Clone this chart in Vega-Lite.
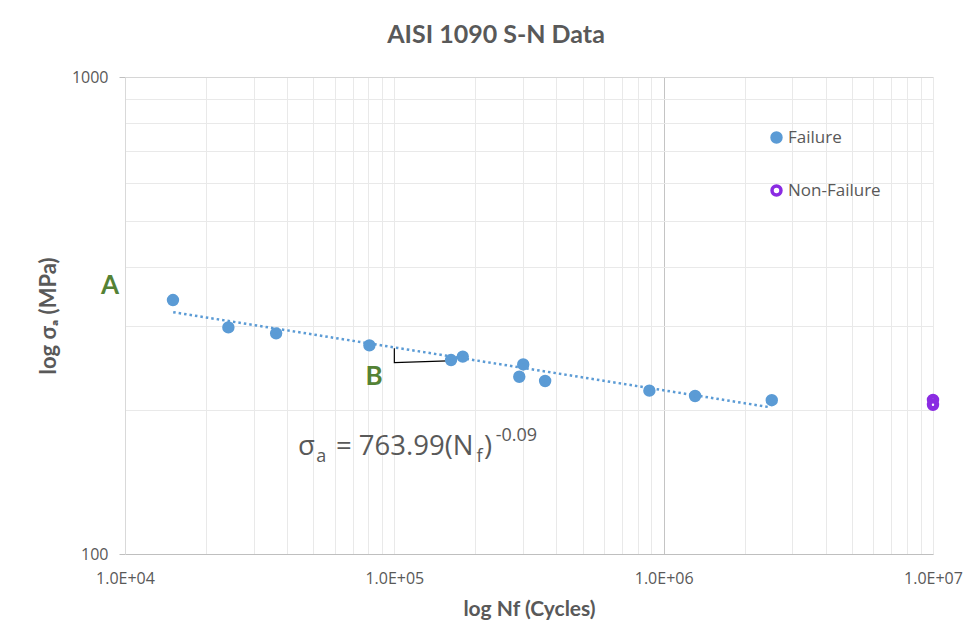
{
  "$schema": "https://vega.github.io/schema/vega-lite/v6.json",
  "width": 808,
  "height": 477,
  "autosize": {"type": "none"},
  "padding": {"left": 125, "top": 77, "right": 43, "bottom": 90},
  "background": "#ffffff",
  "title": {
    "text": "AISI 1090 S-N Data",
    "font": "Lato",
    "fontSize": 25,
    "fontWeight": "bold",
    "color": "#595959",
    "anchor": "middle",
    "dx": -33,
    "offset": 21
  },
  "config": {
    "view": {"stroke": null},
    "legend": {
      "labelFont": "Open Sans",
      "labelFontSize": 17,
      "labelColor": "#595959"
    }
  },
  "datasets": {
    "points": [
      {"N": 15070, "S": 340.7, "type": "Failure"},
      {"N": 24200, "S": 298.6, "type": "Failure"},
      {"N": 36400, "S": 290.1, "type": "Failure"},
      {"N": 80800, "S": 273.8, "type": "Failure"},
      {"N": 162400, "S": 255.0, "type": "Failure"},
      {"N": 179500, "S": 259.3, "type": "Failure"},
      {"N": 301000, "S": 249.7, "type": "Failure"},
      {"N": 291000, "S": 235.3, "type": "Failure"},
      {"N": 363000, "S": 230.5, "type": "Failure"},
      {"N": 885000, "S": 220.0, "type": "Failure"},
      {"N": 1308000, "S": 214.4, "type": "Failure"},
      {"N": 2520000, "S": 210.1, "type": "Failure"},
      {"N": 10000000, "S": 210.4, "type": "Non-Failure"},
      {"N": 10000000, "S": 205.5, "type": "Non-Failure"}
    ],
    "trend": [
      {"N": 15100, "S": 321.3},
      {"N": 2440000, "S": 203.4}
    ],
    "bracket": [
      {"o": 1, "N": 100000, "S": 270},
      {"o": 2, "N": 100000, "S": 252},
      {"o": 3, "N": 158000, "S": 254}
    ],
    "eqbig": [
      {"N": 43900, "S": 161.2, "t": "σ"},
      {"N": 60700, "S": 161.2, "t": "= 763.99(N"},
      {"N": 215300, "S": 161.2, "t": ")"}
    ],
    "eqsmall": [
      {"N": 51300, "S": 155.9, "t": "a"},
      {"N": 202000, "S": 155.9, "t": "f"},
      {"N": 238000, "S": 172.8, "t": "-0.09"}
    ],
    "letters": [
      {"N": 8800, "S": 364.5, "t": "A"},
      {"N": 84000, "S": 234.9, "t": "B"}
    ]
  },
  "encoding": {
    "x": {
      "field": "N",
      "type": "quantitative",
      "scale": {"type": "log", "domain": [10000, 10000000], "nice": false},
      "axis": {
        "values": [10000, 20000, 30000, 40000, 50000, 60000, 70000, 80000, 90000, 100000, 200000, 300000, 400000, 500000, 600000, 700000, 800000, 900000, 1000000, 2000000, 3000000, 4000000, 5000000, 6000000, 7000000, 8000000, 9000000, 10000000],
        "labelExpr": "datum.value == 10000 ? '1.0E+04' : datum.value == 100000 ? '1.0E+05' : datum.value == 1000000 ? '1.0E+06' : datum.value == 10000000 ? '1.0E+07' : ''",
        "labelFont": "Open Sans",
        "labelFontSize": 16,
        "labelColor": "#595959",
        "labelPadding": 16,
        "labelFlush": false,
        "labelOverlap": false,
        "ticks": false,
        "tickSize": 0,
        "domainColor": "#bfbfbf",
        "domainWidth": 1.2,
        "grid": true,
        "gridColor": {"condition": {"test": "datum.value == 1000000", "value": "#c4c4c4"}, "value": "#e9e9e9"},
        "gridWidth": 1,
        "title": "log Nf (Cycles)",
        "titleFont": "Lato",
        "titleFontSize": 21,
        "titleFontWeight": "bold",
        "titleColor": "#595959",
        "titlePadding": 12
      }
    },
    "y": {
      "field": "S",
      "type": "quantitative",
      "scale": {"type": "log", "domain": [100, 1000], "nice": false},
      "axis": {
        "values": [100, 200, 300, 400, 500, 600, 700, 800, 900, 1000],
        "labelExpr": "datum.value == 100 || datum.value == 1000 ? format(datum.value, 'd') : ''",
        "labelFont": "Open Sans",
        "labelFontSize": 16,
        "labelColor": "#595959",
        "labelPadding": 11,
        "labelOverlap": false,
        "tickSize": 6,
        "tickColor": "#bfbfbf",
        "tickOpacity": {"condition": {"test": "datum.value == 100 || datum.value == 1000", "value": 1}, "value": 0},
        "domainColor": "#d9d9d9",
        "grid": true,
        "gridColor": {"condition": {"test": "datum.value == 1000", "value": "#d6d6d6"}, "value": "#e9e9e9"},
        "title": "log σₐ (MPa)",
        "titleFont": "Lato",
        "titleFontSize": 22,
        "titleFontWeight": "bold",
        "titleColor": "#595959",
        "titlePadding": 11
      }
    }
  },
  "layer": [
    {
      "data": {"name": "trend"},
      "mark": {"type": "line", "color": "#5B9BD5", "strokeWidth": 2.5, "strokeDash": [2.5, 3]}
    },
    {
      "data": {"name": "bracket"},
      "mark": {"type": "line", "color": "#000000", "strokeWidth": 1.2},
      "encoding": {"order": {"field": "o", "type": "quantitative"}}
    },
    {
      "data": {"name": "points"},
      "mark": {"type": "point", "shape": "circle", "size": 55, "strokeWidth": 5, "opacity": 1, "filled": false},
      "encoding": {
        "stroke": {
          "field": "type",
          "type": "nominal",
          "scale": {"domain": ["Failure", "Non-Failure"], "range": ["#5B9BD5", "#8A2BE2"]},
          "legend": {"title": null, "orient": "none", "legendX": 643, "legendY": 52, "symbolSize": 80, "symbolStrokeWidth": 3.5, "rowPadding": 30, "labelOffset": 3}
        },
        "fill": {
          "field": "type",
          "type": "nominal",
          "scale": {"domain": ["Failure", "Non-Failure"], "range": ["#5B9BD5", "#ffffff"]},
          "legend": {"title": null, "orient": "none", "legendX": 643, "legendY": 52, "symbolSize": 80, "symbolStrokeWidth": 3.5, "rowPadding": 30, "labelOffset": 3}
        }
      }
    },
    {
      "data": {"name": "eqbig"},
      "mark": {"type": "text", "font": "Open Sans", "fontSize": 27.5, "color": "#595959", "align": "left", "baseline": "alphabetic"},
      "encoding": {"text": {"field": "t"}}
    },
    {
      "data": {"name": "eqsmall"},
      "mark": {"type": "text", "font": "Open Sans", "fontSize": 18, "color": "#595959", "align": "left", "baseline": "alphabetic"},
      "encoding": {"text": {"field": "t"}}
    },
    {
      "data": {"name": "letters"},
      "mark": {"type": "text", "font": "Lato", "fontSize": 26, "fontWeight": "bold", "color": "#548235", "align": "center", "baseline": "middle"},
      "encoding": {"text": {"field": "t"}}
    }
  ]
}
